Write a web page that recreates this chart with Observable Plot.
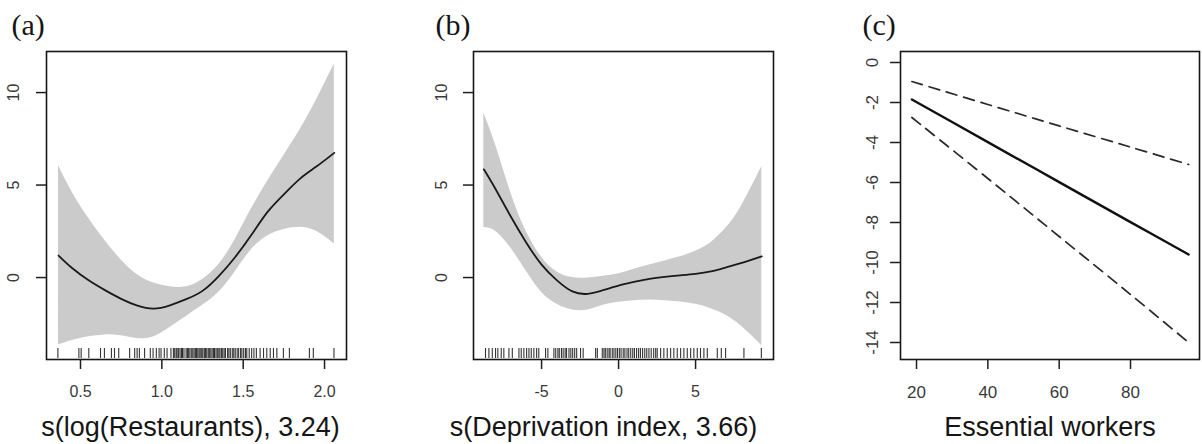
<!DOCTYPE html>
<html><head><meta charset="utf-8">
<script src="https://cdn.jsdelivr.net/npm/d3@7"></script>
<script src="https://cdn.jsdelivr.net/npm/@observablehq/plot@0.6"></script>
<style>
body{margin:0;background:#fff;}
#wrap{position:relative;width:1202px;height:444px;overflow:hidden;background:#fff;}
.panel{position:absolute;top:0;}
.panel svg{overflow:visible;}
</style></head><body><div id="wrap"></div>
<script>
// ---------- Panel (a): s(log(Restaurants), 3.24)
const restX     = [0.365, 0.45, 0.55, 0.65, 0.75, 0.85, 0.95, 1.05, 1.15, 1.25, 1.35, 1.45, 1.55, 1.65, 1.75, 1.85, 1.95, 2.06];
const restFit   = [1.19, 0.5, -0.15, -0.68, -1.15, -1.52, -1.68, -1.5, -1.17, -0.72, 0.08, 1.1, 2.3, 3.55, 4.5, 5.35, 6.0, 6.74];
const restUpper = [6.05, 4.6, 3.2, 2.0, 0.95, 0.15, -0.3, -0.5, -0.5, -0.1, 0.7, 2.05, 3.7, 5.2, 6.6, 8.0, 9.6, 11.55];
const restLower = [-3.64, -3.4, -3.2, -3.1, -3.15, -3.3, -3.2, -2.7, -2.1, -1.5, -0.8, 0.3, 1.5, 2.25, 2.6, 2.72, 2.5, 1.82];
const restRug   = [0.361, 0.49, 0.504, 0.551, 0.623, 0.647, 0.69, 0.709, 0.735, 0.802, 0.833, 0.848, 0.862, 0.894, 0.929, 0.946,
  0.966, 0.983, 0.995, 1.015, 1.032, 1.056, 1.071, 1.079, 1.088, 1.094, 1.103, 1.112, 1.121, 1.127, 1.136, 1.149, 1.157, 1.163,
  1.172, 1.181, 1.19, 1.198, 1.206, 1.213, 1.221, 1.229, 1.236, 1.245, 1.252, 1.261, 1.268, 1.276, 1.285, 1.292, 1.301, 1.309,
  1.318, 1.324, 1.333, 1.341, 1.35, 1.357, 1.366, 1.374, 1.383, 1.391, 1.404, 1.412, 1.421, 1.433, 1.442, 1.451, 1.463, 1.472,
  1.484, 1.492, 1.503, 1.514, 1.522, 1.537, 1.552, 1.566, 1.581, 1.604, 1.625, 1.645, 1.666, 1.686, 1.707, 1.747, 1.784, 1.907,
  1.931, 2.058];
const restTicksX = [0.5, 1.0, 1.5, 2.0];
const restTicksY = [0, 5, 10];

// ---------- Panel (b): s(Deprivation index, 3.66)
const depX     = [-8.75, -8, -7, -6, -5, -4, -3, -2, -1, 0, 1, 2, 3, 4, 5, 6, 7, 8, 9.3];
const depFit   = [5.85, 4.8, 3.3, 1.9, 0.7, -0.15, -0.75, -0.88, -0.68, -0.43, -0.24, -0.07, 0.04, 0.12, 0.2, 0.33, 0.55, 0.79, 1.14];
const depUpper = [8.9, 7.2, 4.6, 2.5, 1.1, 0.3, 0.0, -0.02, 0.07, 0.2, 0.45, 0.68, 0.9, 1.12, 1.42, 1.9, 2.7, 3.9, 6.0];
const depLower = [2.7, 2.5, 1.6, 0.35, -0.8, -1.45, -1.75, -1.75, -1.5, -1.34, -1.26, -1.22, -1.25, -1.32, -1.45, -1.68, -2.05, -2.65, -3.68];
const depRug   = [-8.64, -8.42, -8.2, -7.99, -7.84, -7.62, -7.45, -7.12, -6.9, -6.47, -6.32, -6.15, -5.97, -5.82, -5.67, -5.5,
  -5.32, -5.18, -4.74, -4.59, -4.2, -4.08, -3.94, -3.85, -3.71, -3.6, -3.47, -3.38, -3.22, -3.1, -2.98, -2.85, -2.72, -2.47, -2.3,
  -1.49, -1.38, -1.06, -0.95, -0.86, -0.74, -0.62, -0.55, -0.41, -0.3, -0.18, -0.07, 0.05, 0.16, 0.3, 0.41, 0.55, 0.66, 0.79,
  0.92, 1.03, 1.17, 1.3, 1.42, 1.56, 1.7, 1.83, 1.97, 2.12, 2.28, 2.41, 2.51, 2.73, 2.94, 3.16, 3.38, 3.59, 3.81, 4.03, 4.24,
  4.46, 4.68, 4.89, 5.11, 5.32, 5.54, 5.76, 6.41, 6.67, 6.95, 8.14, 9.27];
const depTicksX = [-5, 0, 5];
const depTicksY = [0, 5, 10];

// ---------- Panel (c): Essential workers
const essX     = [18.7, 40, 60, 80, 96.3];
const essFit   = [-1.85, -3.98, -5.98, -7.98, -9.6];
const essUpper = [-0.95, -2.1, -3.17, -4.23, -5.1];
const essLower = [-2.75, -5.8, -8.7, -11.6, -14.0];
const essTicksX = [20, 40, 60, 80];
const essTicksY = [0, -2, -4, -6, -8, -10, -12, -14];

const titles = ["s(log(Restaurants), 3.24)", "s(Deprivation index, 3.66)", "Essential workers"];
const panelLabels = ["(a)", "(b)", "(c)"];

const zip = (xs, ...cols) => xs.map((x, i) => ({x, fit: cols[0][i], hi: cols[1][i], lo: cols[2][i]}));

function panel(o) {
  const svg = Plot.plot({
    width: o.width, height: 444,
    marginLeft: o.mLeft, marginRight: o.mRight, marginTop: 51, marginBottom: 85,
    x: {domain: o.xDomain},
    y: {domain: o.yDomain},
    style: {fontFamily: "'Liberation Sans', Arial, sans-serif", background: "transparent", color: "#333"},
    marks: [
      ...o.marks,
      Plot.frame({stroke: "#161616", strokeWidth: 1.6}),
      Plot.axisX({ticks: o.xTicks, tickFormat: o.xFmt, tickSize: 10, tickPadding: 16, fontSize: o.fsX, strokeWidth: 1.5, stroke: "#1e1e1e", fill: "#3a3a3a", label: null}),
      Plot.axisY({ticks: o.yTicks, tickFormat: d => String(d).replace("−", "-"), tickSize: 10, tickRotate: -90, tickPadding: o.yPad, fontSize: o.fsY, strokeWidth: 1.5, stroke: "#1e1e1e", fill: "#3a3a3a", label: null}),
      Plot.text([o.title], {frameAnchor: "bottom", dy: 76, dx: o.titleDx, lineAnchor: "bottom", fontSize: 27, fill: "#151515"}),
      Plot.text([o.label], {frameAnchor: "top-left", dx: o.labelDx, dy: -17, lineAnchor: "bottom", textAnchor: "start", fontFamily: "'Liberation Serif', 'Times New Roman', serif", fontSize: 30, fill: "#151515"})
    ]
  });
  const div = document.createElement("div");
  div.className = "panel";
  div.style.left = o.left + "px";
  div.appendChild(svg);
  document.getElementById("wrap").appendChild(div);
}

const dataA = zip(restX, restFit, restUpper, restLower);
panel({
  left: 0, width: 400, mLeft: 46, mRight: 54,
  xDomain: [0.291, 2.135], yDomain: [-4.43, 12.22],
  xTicks: restTicksX, xFmt: d3.format(".1f"), yTicks: restTicksY, yPad: 18, fsX: 16, fsY: 16,
  title: titles[0], titleDx: -6, label: panelLabels[0], labelDx: -35,
  marks: [
    Plot.areaY(dataA, {x: "x", y1: "lo", y2: "hi", fill: "#cbcbcb", curve: "natural"}),
    Plot.line(dataA, {x: "x", y: "fit", stroke: "#1a1a1a", strokeWidth: 1.8, curve: "natural"}),
    Plot.ruleX(restRug, {x: d => d, insetTop: 297, insetBottom: 1, stroke: "#000", strokeOpacity: 0.8, strokeWidth: 1.1})
  ]
});

const dataB = zip(depX, depFit, depUpper, depLower);
panel({
  left: 400, width: 400, mLeft: 73, mRight: 27,
  xDomain: [-9.42, 10.06], yDomain: [-4.43, 12.22],
  xTicks: depTicksX, xFmt: d => String(d), yTicks: depTicksY, yPad: 17, fsX: 16, fsY: 16,
  title: titles[1], titleDx: -20, label: panelLabels[1], labelDx: -38,
  marks: [
    Plot.areaY(dataB, {x: "x", y1: "lo", y2: "hi", fill: "#cbcbcb", curve: "natural"}),
    Plot.line(dataB, {x: "x", y: "fit", stroke: "#1a1a1a", strokeWidth: 1.8, curve: "natural"}),
    Plot.ruleX(depRug, {x: d => d, insetTop: 297, insetBottom: 1, stroke: "#000", strokeOpacity: 0.8, strokeWidth: 1.1})
  ]
});

const dataC = zip(essX, essFit, essUpper, essLower);
panel({
  left: 800, width: 402, mLeft: 100, mRight: 3,
  xDomain: [15.51, 99.34], yDomain: [-14.85, 0.55],
  xTicks: essTicksX, xFmt: d => String(d), yTicks: essTicksY, yPad: 13, fsX: 17, fsY: 17,
  title: titles[2], titleDx: 0, label: panelLabels[2], labelDx: -38,
  marks: [
    Plot.line(dataC, {x: "x", y: "hi", stroke: "#2a2a2a", strokeWidth: 1.7, strokeDasharray: "11,7", curve: "catmull-rom"}),
    Plot.line(dataC, {x: "x", y: "lo", stroke: "#2a2a2a", strokeWidth: 1.7, strokeDasharray: "11,7", curve: "catmull-rom"}),
    Plot.line(dataC, {x: "x", y: "fit", stroke: "#111", strokeWidth: 2.4, curve: "catmull-rom"})
  ]
});
</script></body></html>
